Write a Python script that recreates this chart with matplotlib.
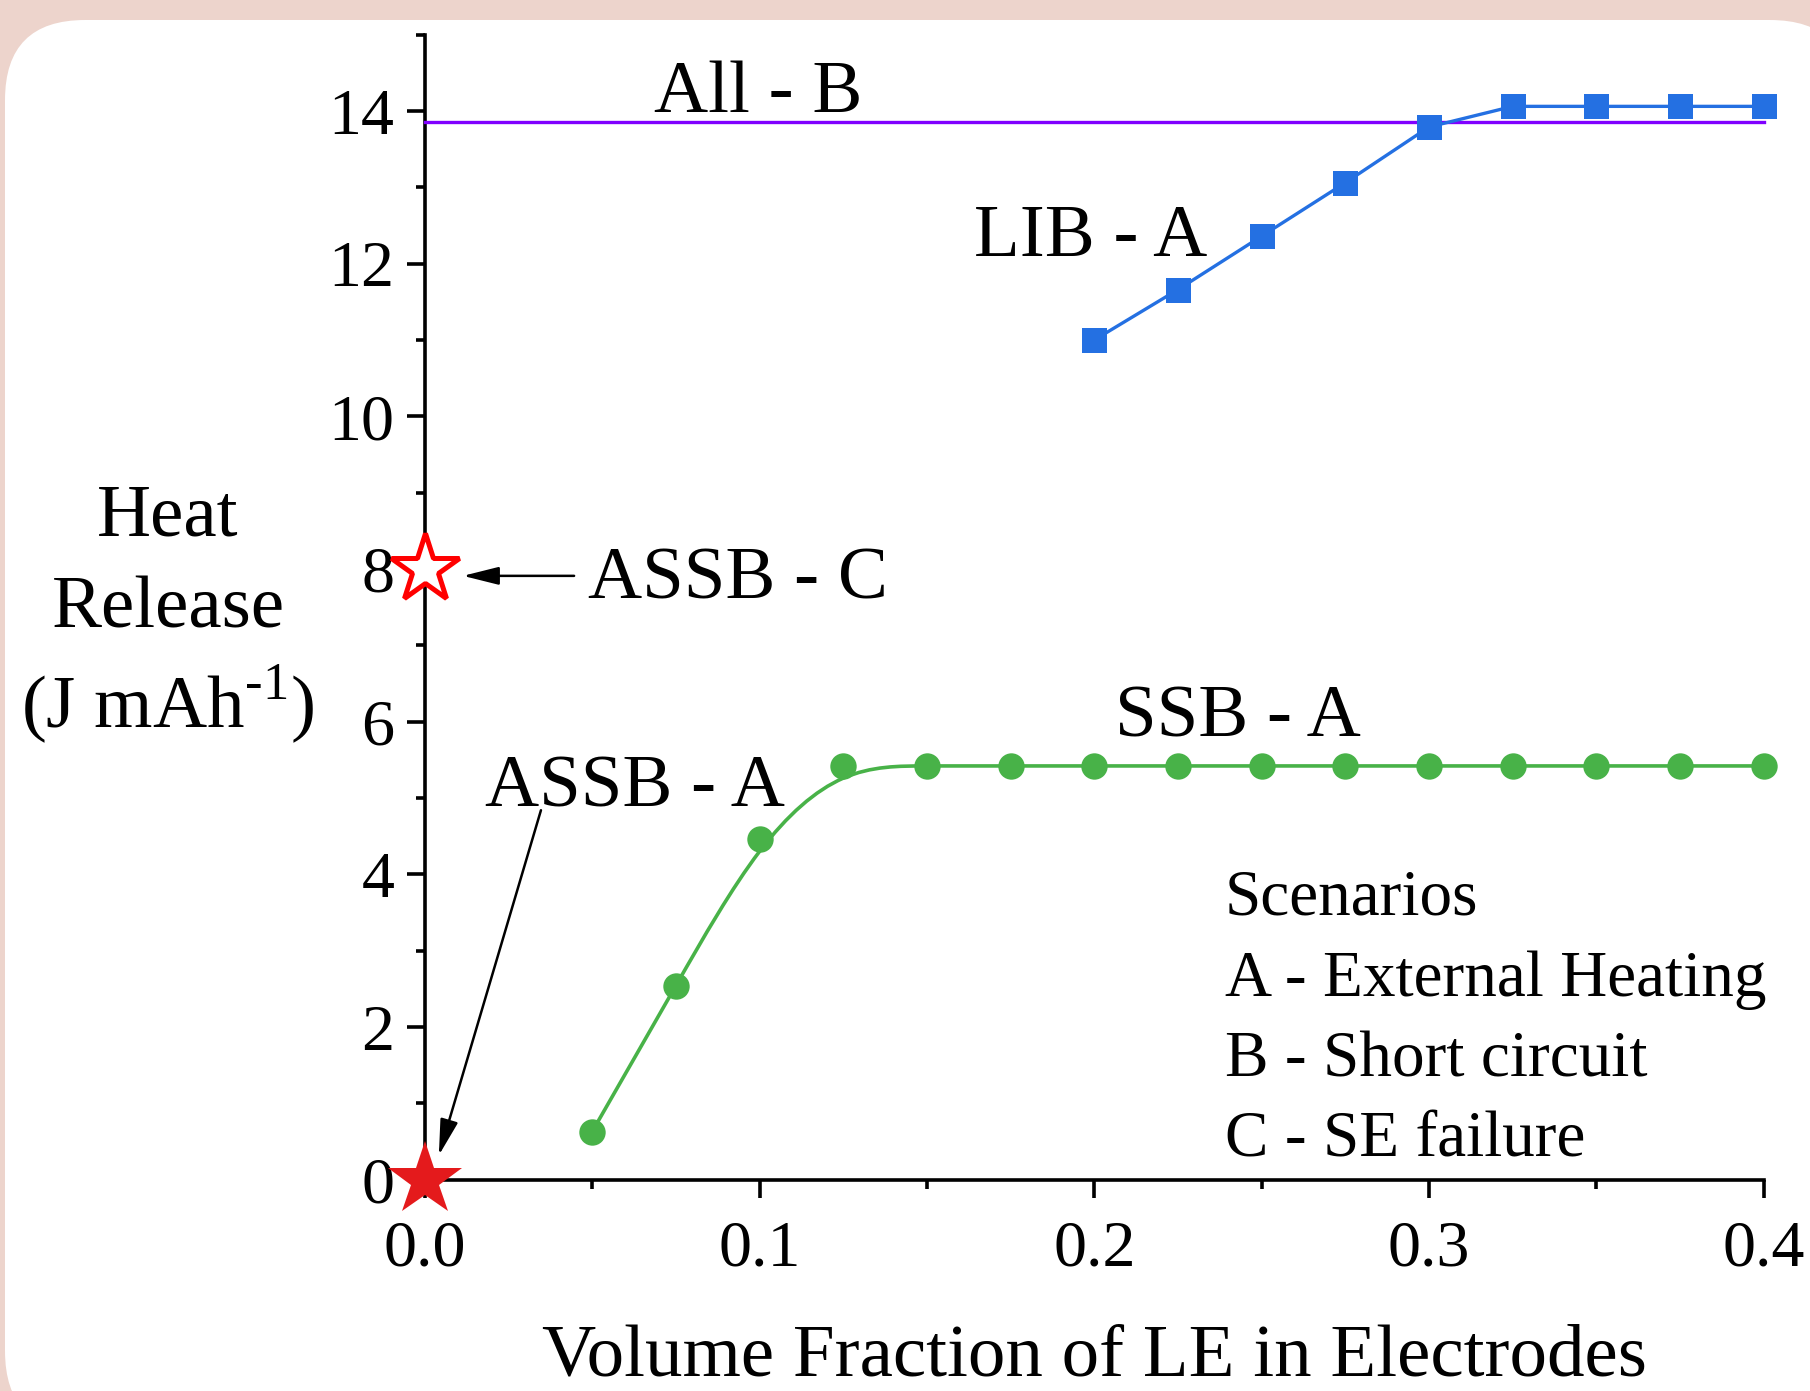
import numpy as np
import matplotlib
matplotlib.use("Agg")
import matplotlib.pyplot as plt
from matplotlib.path import Path
from matplotlib.patches import PathPatch, FancyBboxPatch, ArrowStyle
from matplotlib.transforms import IdentityTransform
from matplotlib.ticker import MultipleLocator, FormatStrFormatter

plt.rcParams['font.family'] = ['Liberation Serif', 'DejaVu Serif']
plt.rcParams['mathtext.fontset'] = 'custom'
plt.rcParams['mathtext.rm'] = 'Liberation Serif'

# ---------------- data ----------------
lib_x = [0.2, 0.225, 0.25, 0.275, 0.3, 0.325, 0.35, 0.375, 0.4]
lib_y = [11.00, 11.66, 12.36, 13.06, 13.79, 14.06, 14.06, 14.06, 14.06]

ssb_x = [0.05, 0.075, 0.1, 0.125, 0.15, 0.175, 0.2, 0.225, 0.25,
         0.275, 0.3, 0.325, 0.35, 0.375, 0.4]
ssb_y = [0.63, 2.54, 4.46, 5.42, 5.42, 5.42, 5.42, 5.42, 5.42,
         5.42, 5.42, 5.42, 5.42, 5.42, 5.42]

allb_x = [0.0, 0.4]
allb_y = [13.85, 13.85]

assb_c = (0.0, 8.0)
assb_a = (0.0, 0.0)

xticks = [0.0, 0.1, 0.2, 0.3, 0.4]
yticks = [0, 2, 4, 6, 8, 10, 12, 14]

scenario_lines = ["Scenarios", "A - External Heating", "B - Short circuit", "C - SE failure"]

# ---------------- colours ----------------
BG = '#EDD4CC'
BLUE = '#2470E2'
GREEN = '#48B248'
PURPLE = '#8000FF'
RED_FILL = '#E41A1C'
RED_EDGE = '#FF0000'

W, H, DPI = 1810, 1391, 100
fig = plt.figure(figsize=(W / DPI, H / DPI), dpi=DPI)
fig.patch.set_facecolor(BG)

# rounded white panel (pixel coordinates)
panel = FancyBboxPatch((5, -40), 1845, 1411, boxstyle="round,pad=0,rounding_size=80",
                       transform=IdentityTransform(), facecolor='white', edgecolor='none',
                       zorder=-10)
fig.patches.append(panel)

ax = fig.add_axes([424.8 / W, 1 - 1179.7 / H, (1763.8 - 424.8) / W, (1179.7 - 34.6) / H])
ax.set_facecolor('none')
ax.set_xlim(0, 0.4)
ax.set_ylim(0, 15)
for s in ['top', 'right']:
    ax.spines[s].set_visible(False)
for s in ['left', 'bottom']:
    ax.spines[s].set_linewidth(2.6)

ax.set_xticks(xticks)
ax.set_yticks(yticks)
ax.xaxis.set_major_formatter(FormatStrFormatter('%.1f'))
ax.xaxis.set_minor_locator(MultipleLocator(0.05))
ax.yaxis.set_minor_locator(MultipleLocator(1))
ax.tick_params(which='major', direction='out', length=13, width=2.6, labelsize=47.5, pad=9)
ax.tick_params(which='minor', direction='out', length=6.5, width=2.6)
ax.tick_params(axis='x', which='major', pad=16)

# All - B horizontal line
ax.plot(allb_x, allb_y, color=PURPLE, lw=2.4, zorder=3, clip_on=False)

# LIB - A
ax.plot(lib_x, lib_y, color=BLUE, lw=2.4, marker='s', markersize=18,
        markeredgewidth=0, zorder=4, clip_on=False)

# SSB - A : B-spline connection built from the data points
px = np.array([ssb_x[0]] * 2 + list(ssb_x) + [ssb_x[-1]] * 2)
py = np.array([ssb_y[0]] * 2 + list(ssb_y) + [ssb_y[-1]] * 2)
verts = []
codes = []
for i in range(len(px) - 3):
    P0 = np.array([px[i], py[i]])
    P1 = np.array([px[i + 1], py[i + 1]])
    P2 = np.array([px[i + 2], py[i + 2]])
    P3 = np.array([px[i + 3], py[i + 3]])
    B0 = (P0 + 4 * P1 + P2) / 6
    B1 = (4 * P1 + 2 * P2) / 6
    B2 = (2 * P1 + 4 * P2) / 6
    B3 = (P1 + 4 * P2 + P3) / 6
    if i == 0:
        verts.append(B0)
        codes.append(Path.MOVETO)
    verts += [B1, B2, B3]
    codes += [Path.CURVE4] * 3
ax.add_patch(PathPatch(Path(verts, codes), facecolor='none', edgecolor=GREEN,
                       lw=2.6, zorder=3, clip_on=False))
ax.plot(ssb_x, ssb_y, linestyle='none', marker='o', markersize=19,
        markerfacecolor=GREEN, markeredgewidth=0, zorder=4, clip_on=False)

# stars
ax.plot([assb_c[0]], [assb_c[1]], marker='*', markersize=52, markerfacecolor='white',
        markeredgecolor=RED_EDGE, markeredgewidth=3.6, linestyle='none', zorder=6, clip_on=False)
ax.plot([assb_a[0]], [assb_a[1]], marker='*', markersize=56, markerfacecolor=RED_FILL,
        markeredgewidth=0, linestyle='none', zorder=6, clip_on=False)

# arrows
astyle = ArrowStyle('-|>', head_length=22, head_width=5.5)
ax.annotate('', xy=(0.0114, 7.91), xytext=(0.0446, 7.91),
            arrowprops=dict(arrowstyle=astyle, mutation_scale=1, color='black', lw=1.8,
                            shrinkA=0, shrinkB=0), zorder=5)
ax.annotate('', xy=(0.0042, 0.32), xytext=(0.0347, 4.84),
            arrowprops=dict(arrowstyle=astyle, mutation_scale=1, color='black', lw=1.8,
                            shrinkA=0, shrinkB=0), zorder=5)

# labels
LFS = 54
ax.text(0.0995, 13.98, "All - B", fontsize=LFS, ha='center', va='baseline')
ax.text(0.199, 12.10, "LIB - A", fontsize=LFS, ha='center', va='baseline')
ax.text(0.2429, 5.81, "SSB - A", fontsize=LFS, ha='center', va='baseline')
ax.text(0.018, 4.895, "ASSB - A", fontsize=LFS, ha='left', va='baseline')
ax.text(0.0488, 7.607, "ASSB - C", fontsize=LFS, ha='left', va='baseline')

sc_y = [3.468, 2.406, 1.358, 0.310]
for t, yy in zip(scenario_lines, sc_y):
    ax.text(0.239, yy, t, fontsize=47, ha='left', va='baseline')

# y label (three lines, horizontal)
fig.text(168 / W, 1 - 535 / H, "Heat", fontsize=LFS, ha='center', va='baseline')
fig.text(168 / W, 1 - 627 / H, "Release", fontsize=LFS, ha='center', va='baseline')
fig.text(168 / W, 1 - 728 / H, r"(J mAh$^{\text{-1}}$)", fontsize=LFS, ha='center', va='baseline')

# x label
fig.text(1095 / W, 1 - 1376 / H, "Volume Fraction of LE in Electrodes", fontsize=LFS,
         ha='center', va='baseline')

fig.savefig("out.png", dpi=DPI, facecolor=BG)
